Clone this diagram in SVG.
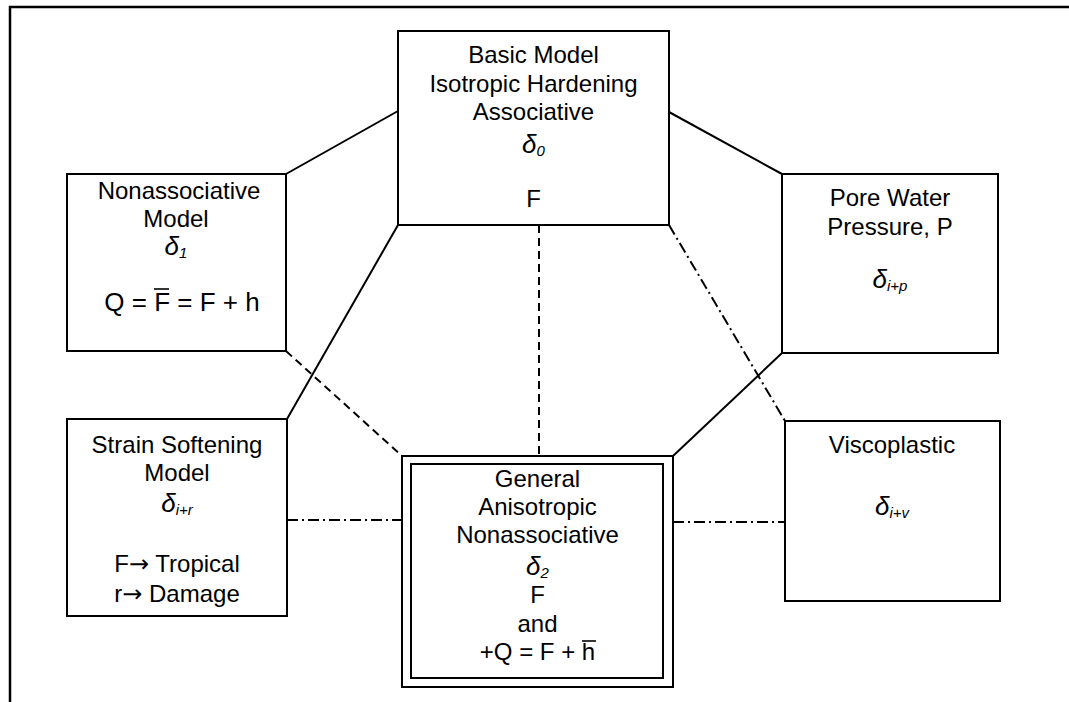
<svg xmlns="http://www.w3.org/2000/svg" width="1069" height="702" viewBox="0 0 1069 702">
  <style>
    .box { fill: #ffffff; stroke: #000000; stroke-width: 2; }
    .frame { fill: none; stroke: #000000; stroke-width: 2.5; }
    .solid { fill: none; stroke: #000000; stroke-width: 2; }
    .dash { fill: none; stroke: #000000; stroke-width: 2; stroke-dasharray: 8 5; }
    .dashdot { fill: none; stroke: #000000; stroke-width: 2; stroke-dasharray: 11 4 2 4; }
    text { font-family: "Liberation Sans", Arial, sans-serif; font-size: 24px; fill: #000000; text-anchor: middle; }
    .d { font-style: italic; font-size: 26px; }
    .sub { font-style: italic; font-size: 15px; }
    .arr { font-family: "DejaVu Sans", sans-serif; font-size: 24px; }
    .bar { stroke: #000000; stroke-width: 1.6; }
  </style>

  <!-- page frame (top and left rules) -->
  <path class="frame" d="M10,702 L10,7 L1069,7"/>

  <!-- connectors -->
  <g id="connectors">
    <line class="solid" x1="398" y1="111" x2="286" y2="174"/>
    <line class="solid" x1="669" y1="112" x2="782" y2="174"/>
    <line class="solid" x1="398" y1="225" x2="287" y2="419"/>
    <line class="dash" x1="539" y1="225" x2="539" y2="456"/>
    <line class="dashdot" x1="669" y1="225" x2="785" y2="421"/>
    <line class="dash" x1="286" y1="351" x2="402" y2="456"/>
    <line class="dashdot" x1="287" y1="520" x2="402" y2="520"/>
    <line class="dashdot" x1="673" y1="522" x2="785" y2="522"/>
    <line class="solid" x1="782" y1="353" x2="673" y2="456"/>
  </g>

  <!-- basic model -->
  <g id="basic">
    <rect class="box" x="398" y="31" width="271" height="194"/>
    <text x="533.5" y="63">Basic Model</text>
    <text x="533.5" y="92">Isotropic Hardening</text>
    <text x="533.5" y="120">Associative</text>
    <text x="533.5" y="153"><tspan class="d">δ</tspan><tspan class="sub" dy="3">0</tspan></text>
    <text x="533.5" y="207">F</text>
  </g>

  <!-- nonassociative model -->
  <g id="nonassociative">
    <rect class="box" x="67" y="174" width="219" height="177"/>
    <text x="179" y="199">Nonassociative</text>
    <text x="176" y="227">Model</text>
    <text x="176" y="255"><tspan class="d">δ</tspan><tspan class="sub" dy="3">1</tspan></text>
    <text x="182" y="311" style="font-size:26px">Q = F = F + h</text>
    <line class="bar" x1="154" y1="289" x2="169" y2="289"/>
  </g>

  <!-- pore water pressure -->
  <g id="pore">
    <rect class="box" x="782" y="174" width="216" height="179"/>
    <text x="890" y="206">Pore Water</text>
    <text x="890" y="235">Pressure, P</text>
    <text x="890" y="288"><tspan class="d">δ</tspan><tspan class="sub" dy="3">i+p</tspan></text>
  </g>

  <!-- strain softening -->
  <g id="strain">
    <rect class="box" x="67" y="419" width="220" height="197"/>
    <text x="177" y="453">Strain Softening</text>
    <text x="177" y="481">Model</text>
    <text x="177" y="512"><tspan class="d">δ</tspan><tspan class="sub" dy="3">i+r</tspan></text>
    <text x="177" y="572">F<tspan class="arr">→</tspan> Tropical</text>
    <text x="177" y="602">r<tspan class="arr">→</tspan> Damage</text>
  </g>

  <!-- general anisotropic nonassociative -->
  <g id="general">
    <rect class="box" x="402" y="456" width="271" height="231"/>
    <rect class="box" x="411" y="464" width="252" height="214"/>
    <text x="537.5" y="487">General</text>
    <text x="537.5" y="515">Anisotropic</text>
    <text x="537.5" y="543">Nonassociative</text>
    <text x="537.5" y="575"><tspan class="d">δ</tspan><tspan class="sub" dy="3">2</tspan></text>
    <text x="537.5" y="603">F</text>
    <text x="537.5" y="632">and</text>
    <text x="537.5" y="660">+Q = F + h</text>
    <line class="bar" x1="582" y1="641" x2="596" y2="641"/>
  </g>

  <!-- viscoplastic -->
  <g id="viscoplastic">
    <rect class="box" x="785" y="421" width="215" height="180"/>
    <text x="892" y="453">Viscoplastic</text>
    <text x="892" y="515"><tspan class="d">δ</tspan><tspan class="sub" dy="3">i+v</tspan></text>
  </g>
</svg>
